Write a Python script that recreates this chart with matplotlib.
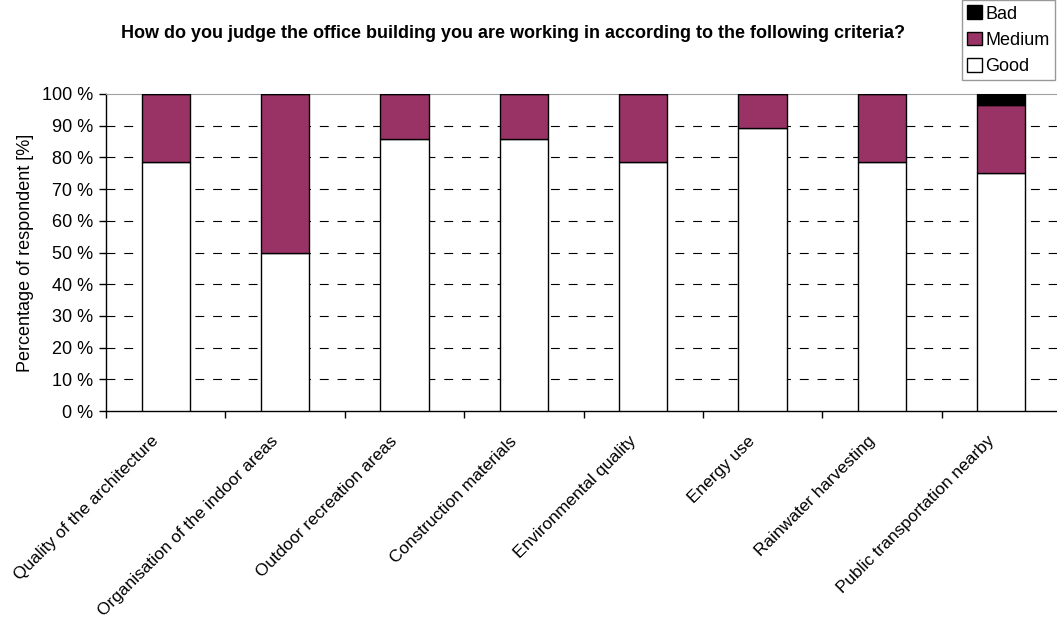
import matplotlib.pyplot as plt
import matplotlib.transforms as mtransforms
import numpy as np

plt.rcParams['font.family'] = ['Liberation Sans', 'DejaVu Sans']

criteria = ["Quality of the architecture", "Organisation of the indoor areas",
            "Outdoor recreation areas", "Construction materials",
            "Environmental quality", "Energy use", "Rainwater harvesting",
            "Public transportation nearby"]
good = [78.6, 50.0, 85.7, 85.7, 78.6, 89.3, 78.6, 75.0]
medium = [21.4, 50.0, 14.3, 14.3, 21.4, 10.7, 21.4, 21.4]
bad = [0, 0, 0, 0, 0, 0, 0, 3.6]
yticks = [0, 10, 20, 30, 40, 50, 60, 70, 80, 90, 100]

fig = plt.figure(figsize=(10.57, 6.17), dpi=100)
ax = fig.add_axes([106 / 1057, 1 - 411 / 617, 955 / 1057, 317 / 617])

x = np.arange(len(criteria))
good = np.array(good)
medium = np.array(medium)
bad = np.array(bad)
w = 0.405
b1 = ax.bar(x, good, w, color='white', edgecolor='black', linewidth=1.0, label='Good', zorder=3)
b2 = ax.bar(x, medium, w, bottom=good, color='#993366', edgecolor='black', linewidth=1.0, label='Medium', zorder=3)
b3 = ax.bar(x, bad, w, bottom=good + medium, color='black', edgecolor='black', linewidth=1.0, label='Bad', zorder=3)

ax.set_xlim(-0.5, len(criteria) - 0.5)
ax.set_ylim(0, 100)
ax.set_yticks(yticks)
ax.set_yticklabels([f"{v} %" for v in yticks], fontsize=13)
ax.set_xticks(x)
ax.set_xticklabels(criteria, rotation=45, ha='right', rotation_mode='anchor', fontsize=12.4)
ax.tick_params(axis='x', length=0, pad=14)
# nudge the slanted labels a little left and down
shift = mtransforms.ScaledTranslation(-15 / 100, -3 / 100, fig.dpi_scale_trans)
for lbl in ax.get_xticklabels():
    lbl.set_transform(lbl.get_transform() + shift)
ax.set_xticks(np.arange(len(criteria) + 1) - 0.5, minor=True)
ax.tick_params(axis='x', which='minor', length=5, direction='out', width=1)
ax.tick_params(axis='y', length=5, direction='out', width=1, pad=4)

for v in yticks[1:-1]:
    ax.axhline(v, color='black', linestyle=(0, (8, 8)), linewidth=0.8, zorder=1)

ax.spines['right'].set_visible(False)
ax.spines['top'].set_color('#a0a0a0')
ax.spines['left'].set_linewidth(1.0)
ax.spines['bottom'].set_linewidth(1.0)

ax.set_ylabel("Percentage of respondent [%]", fontsize=13, labelpad=6)
fig.text(0.485, 1 - 34 / 617, "How do you judge the office building you are working in according to the following criteria?",
         ha='center', va='center', fontsize=13, fontweight='bold')

leg = fig.legend([b3, b2, b1], ['Bad', 'Medium', 'Good'], loc='upper right',
                 bbox_to_anchor=(1055 / 1057, 1.0), fontsize=13, frameon=True,
                 fancybox=False, handlelength=0.8, handleheight=0.8, handletextpad=0.2,
                 borderpad=0.3, labelspacing=0.5, borderaxespad=0)
leg.get_frame().set_edgecolor('#808080')
leg.get_frame().set_linewidth(1.0)

plt.savefig('out.png', dpi=100)
